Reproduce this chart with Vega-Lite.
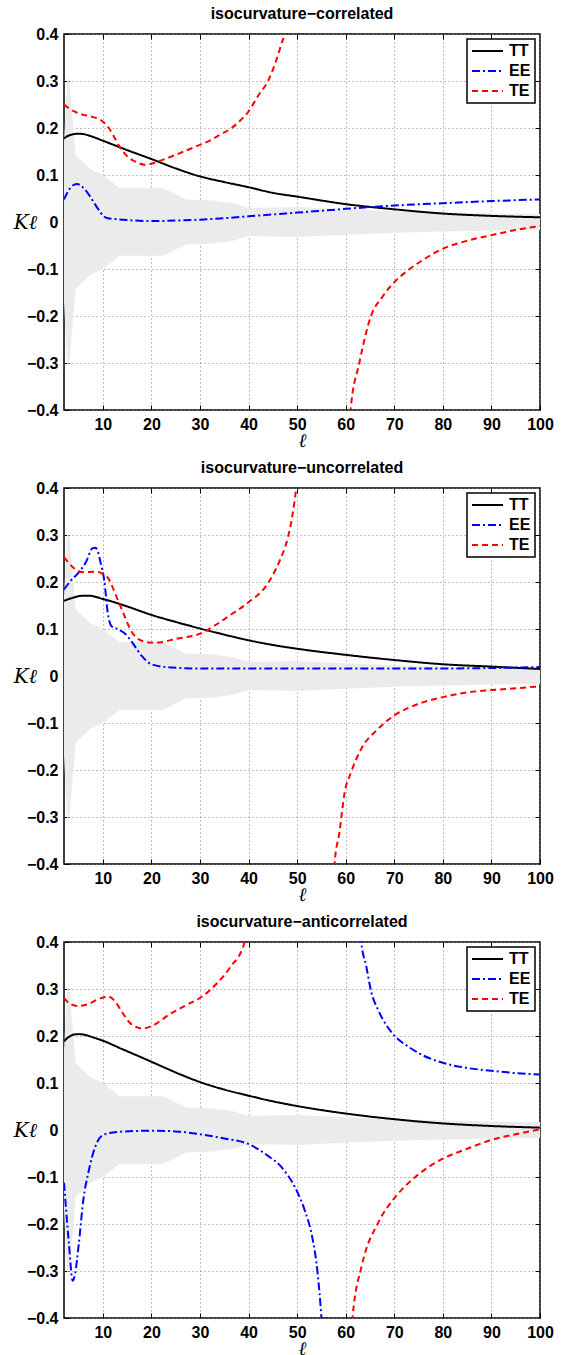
{
"$schema": "https://vega.github.io/schema/vega-lite/v6.json",
"background": "white",
"padding": {"left": 12, "top": 5, "right": 20, "bottom": 0},
"bounds": "flush",
"spacing": 78,
"config": {
  "font": "Liberation Sans",
  "view": {"stroke": "black", "strokeWidth": 1.5},
  "title": {"fontSize": 16, "fontWeight": "bold", "font": "Liberation Sans", "color": "black", "offset": 4},
  "axis": {"labelFont": "Liberation Sans", "labelFontSize": 16, "labelFontWeight": "bold", "labelColor": "black", "tickColor": "black", "tickSize": -5, "tickWidth": 1, "domain": false, "labelFlush": false, "labelOverlap": false, "gridDash": [1, 3], "gridColor": "#808080", "gridWidth": 1, "titleColor": "black", "zindex": 1},
  "legend": {"title": null, "orient": "top-right", "offset": 5, "strokeColor": "black", "strokeWidth": 1.5, "fillColor": "white", "padding": 4, "symbolType": "stroke", "symbolSize": 961, "symbolStrokeWidth": 2, "clipHeight": 16, "labelFontSize": 16, "labelFontWeight": "bold", "labelFont": "Liberation Sans", "labelColor": "black", "labelOffset": 5, "rowPadding": 4}
},
"resolve": {"legend": {"color": "independent", "strokeDash": "independent"}},
"datasets": {
  "band": [
    {"l": 2, "lo": -0.17, "hi": 0.17},
    {"l": 2.7, "lo": -0.31, "hi": 0.31},
    {"l": 3.2, "lo": -0.29, "hi": 0.29},
    {"l": 4.4, "lo": -0.142, "hi": 0.142},
    {"l": 7.4, "lo": -0.113, "hi": 0.113},
    {"l": 10, "lo": -0.1, "hi": 0.1},
    {"l": 13.5, "lo": -0.072, "hi": 0.072},
    {"l": 22.4, "lo": -0.072, "hi": 0.072},
    {"l": 27.2, "lo": -0.048, "hi": 0.048},
    {"l": 32.7, "lo": -0.046, "hi": 0.046},
    {"l": 36.8, "lo": -0.04, "hi": 0.04},
    {"l": 40, "lo": -0.03, "hi": 0.03},
    {"l": 46, "lo": -0.031, "hi": 0.031},
    {"l": 50, "lo": -0.032, "hi": 0.032},
    {"l": 55, "lo": -0.029, "hi": 0.029},
    {"l": 60, "lo": -0.027, "hi": 0.027},
    {"l": 70, "lo": -0.023, "hi": 0.023},
    {"l": 80, "lo": -0.02, "hi": 0.02},
    {"l": 90, "lo": -0.018, "hi": 0.018},
    {"l": 100, "lo": -0.017, "hi": 0.017}
  ],
  "curves": [
    {"p": 1, "s": "TT", "g": "TT", "l": 2, "k": 0.178},
    {"p": 1, "s": "TT", "g": "TT", "l": 3, "k": 0.184},
    {"p": 1, "s": "TT", "g": "TT", "l": 4, "k": 0.187},
    {"p": 1, "s": "TT", "g": "TT", "l": 5, "k": 0.188},
    {"p": 1, "s": "TT", "g": "TT", "l": 6, "k": 0.187},
    {"p": 1, "s": "TT", "g": "TT", "l": 8, "k": 0.181},
    {"p": 1, "s": "TT", "g": "TT", "l": 10, "k": 0.173},
    {"p": 1, "s": "TT", "g": "TT", "l": 12, "k": 0.165},
    {"p": 1, "s": "TT", "g": "TT", "l": 15, "k": 0.153},
    {"p": 1, "s": "TT", "g": "TT", "l": 20, "k": 0.134},
    {"p": 1, "s": "TT", "g": "TT", "l": 25, "k": 0.114},
    {"p": 1, "s": "TT", "g": "TT", "l": 30, "k": 0.097},
    {"p": 1, "s": "TT", "g": "TT", "l": 35, "k": 0.085},
    {"p": 1, "s": "TT", "g": "TT", "l": 40, "k": 0.074},
    {"p": 1, "s": "TT", "g": "TT", "l": 45, "k": 0.062},
    {"p": 1, "s": "TT", "g": "TT", "l": 50, "k": 0.054},
    {"p": 1, "s": "TT", "g": "TT", "l": 60, "k": 0.038},
    {"p": 1, "s": "TT", "g": "TT", "l": 70, "k": 0.027},
    {"p": 1, "s": "TT", "g": "TT", "l": 80, "k": 0.018},
    {"p": 1, "s": "TT", "g": "TT", "l": 90, "k": 0.013},
    {"p": 1, "s": "TT", "g": "TT", "l": 100, "k": 0.01},
    {"p": 1, "s": "EE", "g": "EE", "l": 2, "k": 0.048},
    {"p": 1, "s": "EE", "g": "EE", "l": 3, "k": 0.068},
    {"p": 1, "s": "EE", "g": "EE", "l": 4, "k": 0.079},
    {"p": 1, "s": "EE", "g": "EE", "l": 4.7, "k": 0.081},
    {"p": 1, "s": "EE", "g": "EE", "l": 5.5, "k": 0.077},
    {"p": 1, "s": "EE", "g": "EE", "l": 7, "k": 0.06},
    {"p": 1, "s": "EE", "g": "EE", "l": 8, "k": 0.044},
    {"p": 1, "s": "EE", "g": "EE", "l": 9, "k": 0.028},
    {"p": 1, "s": "EE", "g": "EE", "l": 10, "k": 0.014},
    {"p": 1, "s": "EE", "g": "EE", "l": 11, "k": 0.008},
    {"p": 1, "s": "EE", "g": "EE", "l": 14, "k": 0.005},
    {"p": 1, "s": "EE", "g": "EE", "l": 20, "k": 0.002},
    {"p": 1, "s": "EE", "g": "EE", "l": 25, "k": 0.003},
    {"p": 1, "s": "EE", "g": "EE", "l": 30, "k": 0.005},
    {"p": 1, "s": "EE", "g": "EE", "l": 35, "k": 0.008},
    {"p": 1, "s": "EE", "g": "EE", "l": 40, "k": 0.012},
    {"p": 1, "s": "EE", "g": "EE", "l": 45, "k": 0.016},
    {"p": 1, "s": "EE", "g": "EE", "l": 50, "k": 0.02},
    {"p": 1, "s": "EE", "g": "EE", "l": 60, "k": 0.028},
    {"p": 1, "s": "EE", "g": "EE", "l": 70, "k": 0.035},
    {"p": 1, "s": "EE", "g": "EE", "l": 80, "k": 0.04},
    {"p": 1, "s": "EE", "g": "EE", "l": 90, "k": 0.0445},
    {"p": 1, "s": "EE", "g": "EE", "l": 100, "k": 0.048},
    {"p": 1, "s": "TE", "g": "TEa", "l": 2, "k": 0.25},
    {"p": 1, "s": "TE", "g": "TEa", "l": 3, "k": 0.242},
    {"p": 1, "s": "TE", "g": "TEa", "l": 4.6, "k": 0.233},
    {"p": 1, "s": "TE", "g": "TEa", "l": 6, "k": 0.228},
    {"p": 1, "s": "TE", "g": "TEa", "l": 7.3, "k": 0.225},
    {"p": 1, "s": "TE", "g": "TEa", "l": 9.7, "k": 0.216},
    {"p": 1, "s": "TE", "g": "TEa", "l": 11.3, "k": 0.199},
    {"p": 1, "s": "TE", "g": "TEa", "l": 12.7, "k": 0.174},
    {"p": 1, "s": "TE", "g": "TEa", "l": 13.7, "k": 0.156},
    {"p": 1, "s": "TE", "g": "TEa", "l": 15, "k": 0.14},
    {"p": 1, "s": "TE", "g": "TEa", "l": 16.8, "k": 0.128},
    {"p": 1, "s": "TE", "g": "TEa", "l": 18.6, "k": 0.122},
    {"p": 1, "s": "TE", "g": "TEa", "l": 20, "k": 0.124},
    {"p": 1, "s": "TE", "g": "TEa", "l": 22, "k": 0.131},
    {"p": 1, "s": "TE", "g": "TEa", "l": 25.5, "k": 0.145},
    {"p": 1, "s": "TE", "g": "TEa", "l": 29.7, "k": 0.163},
    {"p": 1, "s": "TE", "g": "TEa", "l": 31.8, "k": 0.172},
    {"p": 1, "s": "TE", "g": "TEa", "l": 34, "k": 0.185},
    {"p": 1, "s": "TE", "g": "TEa", "l": 36.5, "k": 0.2},
    {"p": 1, "s": "TE", "g": "TEa", "l": 38.5, "k": 0.218},
    {"p": 1, "s": "TE", "g": "TEa", "l": 39.9, "k": 0.234},
    {"p": 1, "s": "TE", "g": "TEa", "l": 42, "k": 0.269},
    {"p": 1, "s": "TE", "g": "TEa", "l": 44, "k": 0.3},
    {"p": 1, "s": "TE", "g": "TEa", "l": 45.8, "k": 0.347},
    {"p": 1, "s": "TE", "g": "TEa", "l": 47, "k": 0.386},
    {"p": 1, "s": "TE", "g": "TEa", "l": 47.5, "k": 0.4},
    {"p": 1, "s": "TE", "g": "TEa", "l": 48, "k": 0.42},
    {"p": 1, "s": "TE", "g": "TEb", "l": 60.6, "k": -0.45},
    {"p": 1, "s": "TE", "g": "TEb", "l": 61, "k": -0.4},
    {"p": 1, "s": "TE", "g": "TEb", "l": 62.8, "k": -0.3},
    {"p": 1, "s": "TE", "g": "TEb", "l": 65.2, "k": -0.2},
    {"p": 1, "s": "TE", "g": "TEb", "l": 67.5, "k": -0.16},
    {"p": 1, "s": "TE", "g": "TEb", "l": 70, "k": -0.128},
    {"p": 1, "s": "TE", "g": "TEb", "l": 72.8, "k": -0.103},
    {"p": 1, "s": "TE", "g": "TEb", "l": 76, "k": -0.08},
    {"p": 1, "s": "TE", "g": "TEb", "l": 80, "k": -0.057},
    {"p": 1, "s": "TE", "g": "TEb", "l": 85, "k": -0.04},
    {"p": 1, "s": "TE", "g": "TEb", "l": 90, "k": -0.028},
    {"p": 1, "s": "TE", "g": "TEb", "l": 95, "k": -0.017},
    {"p": 1, "s": "TE", "g": "TEb", "l": 100, "k": -0.0085},

    {"p": 2, "s": "TT", "g": "TT", "l": 2, "k": 0.16},
    {"p": 2, "s": "TT", "g": "TT", "l": 4, "k": 0.167},
    {"p": 2, "s": "TT", "g": "TT", "l": 6, "k": 0.171},
    {"p": 2, "s": "TT", "g": "TT", "l": 7, "k": 0.171},
    {"p": 2, "s": "TT", "g": "TT", "l": 10, "k": 0.164},
    {"p": 2, "s": "TT", "g": "TT", "l": 15, "k": 0.148},
    {"p": 2, "s": "TT", "g": "TT", "l": 20, "k": 0.13},
    {"p": 2, "s": "TT", "g": "TT", "l": 25, "k": 0.115},
    {"p": 2, "s": "TT", "g": "TT", "l": 30, "k": 0.101},
    {"p": 2, "s": "TT", "g": "TT", "l": 35, "k": 0.088},
    {"p": 2, "s": "TT", "g": "TT", "l": 40, "k": 0.076},
    {"p": 2, "s": "TT", "g": "TT", "l": 45, "k": 0.066},
    {"p": 2, "s": "TT", "g": "TT", "l": 50, "k": 0.058},
    {"p": 2, "s": "TT", "g": "TT", "l": 60, "k": 0.045},
    {"p": 2, "s": "TT", "g": "TT", "l": 70, "k": 0.034},
    {"p": 2, "s": "TT", "g": "TT", "l": 80, "k": 0.025},
    {"p": 2, "s": "TT", "g": "TT", "l": 90, "k": 0.02},
    {"p": 2, "s": "TT", "g": "TT", "l": 100, "k": 0.015},
    {"p": 2, "s": "EE", "g": "EE", "l": 2, "k": 0.184},
    {"p": 2, "s": "EE", "g": "EE", "l": 3.4, "k": 0.203},
    {"p": 2, "s": "EE", "g": "EE", "l": 5.1, "k": 0.221},
    {"p": 2, "s": "EE", "g": "EE", "l": 6.5, "k": 0.242},
    {"p": 2, "s": "EE", "g": "EE", "l": 7.9, "k": 0.272},
    {"p": 2, "s": "EE", "g": "EE", "l": 8.5, "k": 0.273},
    {"p": 2, "s": "EE", "g": "EE", "l": 8.9, "k": 0.267},
    {"p": 2, "s": "EE", "g": "EE", "l": 9.6, "k": 0.238},
    {"p": 2, "s": "EE", "g": "EE", "l": 10.3, "k": 0.203},
    {"p": 2, "s": "EE", "g": "EE", "l": 11, "k": 0.135},
    {"p": 2, "s": "EE", "g": "EE", "l": 11.7, "k": 0.107},
    {"p": 2, "s": "EE", "g": "EE", "l": 13, "k": 0.1},
    {"p": 2, "s": "EE", "g": "EE", "l": 14.7, "k": 0.089},
    {"p": 2, "s": "EE", "g": "EE", "l": 16, "k": 0.072},
    {"p": 2, "s": "EE", "g": "EE", "l": 18, "k": 0.043},
    {"p": 2, "s": "EE", "g": "EE", "l": 20, "k": 0.025},
    {"p": 2, "s": "EE", "g": "EE", "l": 24, "k": 0.018},
    {"p": 2, "s": "EE", "g": "EE", "l": 30, "k": 0.016},
    {"p": 2, "s": "EE", "g": "EE", "l": 50, "k": 0.016},
    {"p": 2, "s": "EE", "g": "EE", "l": 80, "k": 0.016},
    {"p": 2, "s": "EE", "g": "EE", "l": 90, "k": 0.017},
    {"p": 2, "s": "EE", "g": "EE", "l": 100, "k": 0.019},
    {"p": 2, "s": "TE", "g": "TEa", "l": 2, "k": 0.253},
    {"p": 2, "s": "TE", "g": "TEa", "l": 3, "k": 0.24},
    {"p": 2, "s": "TE", "g": "TEa", "l": 4.2, "k": 0.228},
    {"p": 2, "s": "TE", "g": "TEa", "l": 5.9, "k": 0.221},
    {"p": 2, "s": "TE", "g": "TEa", "l": 8.6, "k": 0.222},
    {"p": 2, "s": "TE", "g": "TEa", "l": 10, "k": 0.217},
    {"p": 2, "s": "TE", "g": "TEa", "l": 11.3, "k": 0.205},
    {"p": 2, "s": "TE", "g": "TEa", "l": 12, "k": 0.189},
    {"p": 2, "s": "TE", "g": "TEa", "l": 13, "k": 0.164},
    {"p": 2, "s": "TE", "g": "TEa", "l": 14, "k": 0.139},
    {"p": 2, "s": "TE", "g": "TEa", "l": 16, "k": 0.093},
    {"p": 2, "s": "TE", "g": "TEa", "l": 18, "k": 0.075},
    {"p": 2, "s": "TE", "g": "TEa", "l": 20, "k": 0.071},
    {"p": 2, "s": "TE", "g": "TEa", "l": 22, "k": 0.072},
    {"p": 2, "s": "TE", "g": "TEa", "l": 25, "k": 0.079},
    {"p": 2, "s": "TE", "g": "TEa", "l": 30, "k": 0.09},
    {"p": 2, "s": "TE", "g": "TEa", "l": 33, "k": 0.107},
    {"p": 2, "s": "TE", "g": "TEa", "l": 36, "k": 0.128},
    {"p": 2, "s": "TE", "g": "TEa", "l": 40, "k": 0.157},
    {"p": 2, "s": "TE", "g": "TEa", "l": 43.5, "k": 0.19},
    {"p": 2, "s": "TE", "g": "TEa", "l": 45, "k": 0.215},
    {"p": 2, "s": "TE", "g": "TEa", "l": 46.4, "k": 0.245},
    {"p": 2, "s": "TE", "g": "TEa", "l": 48.1, "k": 0.295},
    {"p": 2, "s": "TE", "g": "TEa", "l": 49, "k": 0.34},
    {"p": 2, "s": "TE", "g": "TEa", "l": 49.8, "k": 0.4},
    {"p": 2, "s": "TE", "g": "TEa", "l": 50.2, "k": 0.44},
    {"p": 2, "s": "TE", "g": "TEb", "l": 57.5, "k": -0.45},
    {"p": 2, "s": "TE", "g": "TEb", "l": 57.7, "k": -0.4},
    {"p": 2, "s": "TE", "g": "TEb", "l": 58.7, "k": -0.333},
    {"p": 2, "s": "TE", "g": "TEb", "l": 59.8, "k": -0.247},
    {"p": 2, "s": "TE", "g": "TEb", "l": 61.1, "k": -0.205},
    {"p": 2, "s": "TE", "g": "TEb", "l": 63.2, "k": -0.155},
    {"p": 2, "s": "TE", "g": "TEb", "l": 66.6, "k": -0.113},
    {"p": 2, "s": "TE", "g": "TEb", "l": 70, "k": -0.084},
    {"p": 2, "s": "TE", "g": "TEb", "l": 74.8, "k": -0.06},
    {"p": 2, "s": "TE", "g": "TEb", "l": 80, "k": -0.045},
    {"p": 2, "s": "TE", "g": "TEb", "l": 85, "k": -0.035},
    {"p": 2, "s": "TE", "g": "TEb", "l": 90, "k": -0.03},
    {"p": 2, "s": "TE", "g": "TEb", "l": 95, "k": -0.026},
    {"p": 2, "s": "TE", "g": "TEb", "l": 100, "k": -0.022},

    {"p": 3, "s": "TT", "g": "TT", "l": 2, "k": 0.189},
    {"p": 3, "s": "TT", "g": "TT", "l": 3, "k": 0.198},
    {"p": 3, "s": "TT", "g": "TT", "l": 4, "k": 0.203},
    {"p": 3, "s": "TT", "g": "TT", "l": 5, "k": 0.204},
    {"p": 3, "s": "TT", "g": "TT", "l": 6, "k": 0.203},
    {"p": 3, "s": "TT", "g": "TT", "l": 8, "k": 0.197},
    {"p": 3, "s": "TT", "g": "TT", "l": 10, "k": 0.19},
    {"p": 3, "s": "TT", "g": "TT", "l": 14, "k": 0.172},
    {"p": 3, "s": "TT", "g": "TT", "l": 18.5, "k": 0.152},
    {"p": 3, "s": "TT", "g": "TT", "l": 22, "k": 0.136},
    {"p": 3, "s": "TT", "g": "TT", "l": 26, "k": 0.118},
    {"p": 3, "s": "TT", "g": "TT", "l": 30, "k": 0.102},
    {"p": 3, "s": "TT", "g": "TT", "l": 35, "k": 0.086},
    {"p": 3, "s": "TT", "g": "TT", "l": 40, "k": 0.073},
    {"p": 3, "s": "TT", "g": "TT", "l": 45, "k": 0.061},
    {"p": 3, "s": "TT", "g": "TT", "l": 50, "k": 0.051},
    {"p": 3, "s": "TT", "g": "TT", "l": 60, "k": 0.035},
    {"p": 3, "s": "TT", "g": "TT", "l": 70, "k": 0.023},
    {"p": 3, "s": "TT", "g": "TT", "l": 80, "k": 0.014},
    {"p": 3, "s": "TT", "g": "TT", "l": 90, "k": 0.0085},
    {"p": 3, "s": "TT", "g": "TT", "l": 100, "k": 0.005},
    {"p": 3, "s": "EE", "g": "EEa", "l": 2, "k": -0.112},
    {"p": 3, "s": "EE", "g": "EEa", "l": 3, "k": -0.24},
    {"p": 3, "s": "EE", "g": "EEa", "l": 3.8, "k": -0.321},
    {"p": 3, "s": "EE", "g": "EEa", "l": 4.3, "k": -0.305},
    {"p": 3, "s": "EE", "g": "EEa", "l": 5, "k": -0.247},
    {"p": 3, "s": "EE", "g": "EEa", "l": 6, "k": -0.147},
    {"p": 3, "s": "EE", "g": "EEa", "l": 7, "k": -0.091},
    {"p": 3, "s": "EE", "g": "EEa", "l": 8.5, "k": -0.034},
    {"p": 3, "s": "EE", "g": "EEa", "l": 10, "k": -0.011},
    {"p": 3, "s": "EE", "g": "EEa", "l": 13, "k": -0.004},
    {"p": 3, "s": "EE", "g": "EEa", "l": 20, "k": -0.0015},
    {"p": 3, "s": "EE", "g": "EEa", "l": 25, "k": -0.003},
    {"p": 3, "s": "EE", "g": "EEa", "l": 30, "k": -0.009},
    {"p": 3, "s": "EE", "g": "EEa", "l": 35, "k": -0.018},
    {"p": 3, "s": "EE", "g": "EEa", "l": 40, "k": -0.03},
    {"p": 3, "s": "EE", "g": "EEa", "l": 44, "k": -0.055},
    {"p": 3, "s": "EE", "g": "EEa", "l": 46.6, "k": -0.077},
    {"p": 3, "s": "EE", "g": "EEa", "l": 49.4, "k": -0.119},
    {"p": 3, "s": "EE", "g": "EEa", "l": 51.5, "k": -0.169},
    {"p": 3, "s": "EE", "g": "EEa", "l": 53.2, "k": -0.233},
    {"p": 3, "s": "EE", "g": "EEa", "l": 54.2, "k": -0.303},
    {"p": 3, "s": "EE", "g": "EEa", "l": 55, "k": -0.4},
    {"p": 3, "s": "EE", "g": "EEa", "l": 55.3, "k": -0.45},
    {"p": 3, "s": "EE", "g": "EEb", "l": 63, "k": 0.45},
    {"p": 3, "s": "EE", "g": "EEb", "l": 63.2, "k": 0.4},
    {"p": 3, "s": "EE", "g": "EEb", "l": 64.2, "k": 0.35},
    {"p": 3, "s": "EE", "g": "EEb", "l": 65.3, "k": 0.292},
    {"p": 3, "s": "EE", "g": "EEb", "l": 66.6, "k": 0.257},
    {"p": 3, "s": "EE", "g": "EEb", "l": 68.7, "k": 0.218},
    {"p": 3, "s": "EE", "g": "EEb", "l": 70.4, "k": 0.197},
    {"p": 3, "s": "EE", "g": "EEb", "l": 72.8, "k": 0.178},
    {"p": 3, "s": "EE", "g": "EEb", "l": 75.5, "k": 0.161},
    {"p": 3, "s": "EE", "g": "EEb", "l": 80.3, "k": 0.142},
    {"p": 3, "s": "EE", "g": "EEb", "l": 85, "k": 0.132},
    {"p": 3, "s": "EE", "g": "EEb", "l": 90, "k": 0.126},
    {"p": 3, "s": "EE", "g": "EEb", "l": 95, "k": 0.121},
    {"p": 3, "s": "EE", "g": "EEb", "l": 100, "k": 0.118},
    {"p": 3, "s": "TE", "g": "TEa", "l": 2, "k": 0.281},
    {"p": 3, "s": "TE", "g": "TEa", "l": 3, "k": 0.27},
    {"p": 3, "s": "TE", "g": "TEa", "l": 4.8, "k": 0.264},
    {"p": 3, "s": "TE", "g": "TEa", "l": 7, "k": 0.268},
    {"p": 3, "s": "TE", "g": "TEa", "l": 9, "k": 0.278},
    {"p": 3, "s": "TE", "g": "TEa", "l": 11.1, "k": 0.284},
    {"p": 3, "s": "TE", "g": "TEa", "l": 12.5, "k": 0.274},
    {"p": 3, "s": "TE", "g": "TEa", "l": 14, "k": 0.25},
    {"p": 3, "s": "TE", "g": "TEa", "l": 16, "k": 0.224},
    {"p": 3, "s": "TE", "g": "TEa", "l": 18.2, "k": 0.216},
    {"p": 3, "s": "TE", "g": "TEa", "l": 20, "k": 0.221},
    {"p": 3, "s": "TE", "g": "TEa", "l": 23.7, "k": 0.246},
    {"p": 3, "s": "TE", "g": "TEa", "l": 27.4, "k": 0.267},
    {"p": 3, "s": "TE", "g": "TEa", "l": 30.3, "k": 0.283},
    {"p": 3, "s": "TE", "g": "TEa", "l": 33.3, "k": 0.31},
    {"p": 3, "s": "TE", "g": "TEa", "l": 36.2, "k": 0.346},
    {"p": 3, "s": "TE", "g": "TEa", "l": 39.2, "k": 0.4},
    {"p": 3, "s": "TE", "g": "TEa", "l": 39.6, "k": 0.42},
    {"p": 3, "s": "TE", "g": "TEb", "l": 61.2, "k": -0.45},
    {"p": 3, "s": "TE", "g": "TEb", "l": 61.4, "k": -0.4},
    {"p": 3, "s": "TE", "g": "TEb", "l": 63.3, "k": -0.289},
    {"p": 3, "s": "TE", "g": "TEb", "l": 66.7, "k": -0.197},
    {"p": 3, "s": "TE", "g": "TEb", "l": 70.1, "k": -0.144},
    {"p": 3, "s": "TE", "g": "TEb", "l": 74.2, "k": -0.101},
    {"p": 3, "s": "TE", "g": "TEb", "l": 80, "k": -0.061},
    {"p": 3, "s": "TE", "g": "TEb", "l": 85, "k": -0.04},
    {"p": 3, "s": "TE", "g": "TEb", "l": 90, "k": -0.021},
    {"p": 3, "s": "TE", "g": "TEb", "l": 95, "k": -0.009},
    {"p": 3, "s": "TE", "g": "TEb", "l": 100, "k": 0.0015}
  ]
},
"vconcat": [
  {
    "title": "isocurvature−correlated",
    "width": 476, "height": 376,
    "resolve": {"axis": {"x": "independent", "y": "independent"}},
    "layer": [
      {"data": {"name": "band"},
       "mark": {"type": "area", "color": "#ebebeb", "clip": true, "interpolate": "linear"},
       "encoding": {
         "x": {"field": "l", "type": "quantitative", "scale": {"domain": [2, 100], "nice": false, "zero": false},
               "axis": {"orient": "bottom", "values": [10,20,30,40,50,60,70,80,90,100], "grid": true, "labelPadding": 11, "title": "ℓ", "titleFont": "DejaVu Serif", "titleFontStyle": "italic", "titleFontWeight": "normal", "titleFontSize": 19, "titleBaseline": "alphabetic", "titlePadding": 14.5}},
         "y": {"field": "lo", "type": "quantitative", "scale": {"domain": [-0.4, 0.4], "nice": false, "zero": false},
               "axis": {"orient": "left", "values": [-0.4,-0.3,-0.2,-0.1,0,0.1,0.2,0.3,0.4], "format": "~g", "grid": true, "labelPadding": 11, "title": "Kℓ", "titleFont": "DejaVu Serif", "titleFontStyle": "italic", "titleFontWeight": "normal", "titleFontSize": 20, "titleAngle": 0, "titleAlign": "center", "titleBaseline": "middle", "titleX": -39, "titleY": 188}},
         "y2": {"field": "hi"}
       }},
      {"data": {"name": "curves"},
       "transform": [{"filter": "datum.p == 1"}],
       "mark": {"type": "line", "clip": true, "strokeWidth": 2, "interpolate": "monotone"},
       "encoding": {
         "x": {"field": "l", "type": "quantitative", "axis": {"orient": "top", "values": [10,20,30,40,50,60,70,80,90], "grid": false, "labels": false, "title": null}},
         "y": {"field": "k", "type": "quantitative", "axis": {"orient": "right", "values": [-0.3,-0.2,-0.1,0,0.1,0.2,0.3], "grid": false, "labels": false, "title": null}},
         "color": {"field": "s", "type": "nominal", "scale": {"domain": ["TT","EE","TE"], "range": ["#000000","#0000ff","#ff0000"]}, "legend": {"title": null}},
         "strokeDash": {"field": "s", "type": "nominal", "scale": {"domain": ["TT","EE","TE"], "range": [[1,0],[8,3,2,3],[6,4]]}, "legend": {"title": null}},
         "detail": {"field": "g", "type": "nominal"}
       }}
    ]
  },
  {
    "title": "isocurvature−uncorrelated",
    "width": 476, "height": 376,
    "resolve": {"axis": {"x": "independent", "y": "independent"}},
    "layer": [
      {"data": {"name": "band"},
       "mark": {"type": "area", "color": "#ebebeb", "clip": true, "interpolate": "linear"},
       "encoding": {
         "x": {"field": "l", "type": "quantitative", "scale": {"domain": [2, 100], "nice": false, "zero": false},
               "axis": {"orient": "bottom", "values": [10,20,30,40,50,60,70,80,90,100], "grid": true, "labelPadding": 11, "title": "ℓ", "titleFont": "DejaVu Serif", "titleFontStyle": "italic", "titleFontWeight": "normal", "titleFontSize": 19, "titleBaseline": "alphabetic", "titlePadding": 14.5}},
         "y": {"field": "lo", "type": "quantitative", "scale": {"domain": [-0.4, 0.4], "nice": false, "zero": false},
               "axis": {"orient": "left", "values": [-0.4,-0.3,-0.2,-0.1,0,0.1,0.2,0.3,0.4], "format": "~g", "grid": true, "labelPadding": 11, "title": "Kℓ", "titleFont": "DejaVu Serif", "titleFontStyle": "italic", "titleFontWeight": "normal", "titleFontSize": 20, "titleAngle": 0, "titleAlign": "center", "titleBaseline": "middle", "titleX": -39, "titleY": 188}},
         "y2": {"field": "hi"}
       }},
      {"data": {"name": "curves"},
       "transform": [{"filter": "datum.p == 2"}],
       "mark": {"type": "line", "clip": true, "strokeWidth": 2, "interpolate": "monotone"},
       "encoding": {
         "x": {"field": "l", "type": "quantitative", "axis": {"orient": "top", "values": [10,20,30,40,50,60,70,80,90], "grid": false, "labels": false, "title": null}},
         "y": {"field": "k", "type": "quantitative", "axis": {"orient": "right", "values": [-0.3,-0.2,-0.1,0,0.1,0.2,0.3], "grid": false, "labels": false, "title": null}},
         "color": {"field": "s", "type": "nominal", "scale": {"domain": ["TT","EE","TE"], "range": ["#000000","#0000ff","#ff0000"]}, "legend": {"title": null}},
         "strokeDash": {"field": "s", "type": "nominal", "scale": {"domain": ["TT","EE","TE"], "range": [[1,0],[8,3,2,3],[6,4]]}, "legend": {"title": null}},
         "detail": {"field": "g", "type": "nominal"}
       }}
    ]
  },
  {
    "title": "isocurvature−anticorrelated",
    "width": 476, "height": 376,
    "resolve": {"axis": {"x": "independent", "y": "independent"}},
    "layer": [
      {"data": {"name": "band"},
       "mark": {"type": "area", "color": "#ebebeb", "clip": true, "interpolate": "linear"},
       "encoding": {
         "x": {"field": "l", "type": "quantitative", "scale": {"domain": [2, 100], "nice": false, "zero": false},
               "axis": {"orient": "bottom", "values": [10,20,30,40,50,60,70,80,90,100], "grid": true, "labelPadding": 11, "title": "ℓ", "titleFont": "DejaVu Serif", "titleFontStyle": "italic", "titleFontWeight": "normal", "titleFontSize": 19, "titleBaseline": "alphabetic", "titlePadding": 14.5}},
         "y": {"field": "lo", "type": "quantitative", "scale": {"domain": [-0.4, 0.4], "nice": false, "zero": false},
               "axis": {"orient": "left", "values": [-0.4,-0.3,-0.2,-0.1,0,0.1,0.2,0.3,0.4], "format": "~g", "grid": true, "labelPadding": 11, "title": "Kℓ", "titleFont": "DejaVu Serif", "titleFontStyle": "italic", "titleFontWeight": "normal", "titleFontSize": 20, "titleAngle": 0, "titleAlign": "center", "titleBaseline": "middle", "titleX": -39, "titleY": 188}},
         "y2": {"field": "hi"}
       }},
      {"data": {"name": "curves"},
       "transform": [{"filter": "datum.p == 3"}],
       "mark": {"type": "line", "clip": true, "strokeWidth": 2, "interpolate": "monotone"},
       "encoding": {
         "x": {"field": "l", "type": "quantitative", "axis": {"orient": "top", "values": [10,20,30,40,50,60,70,80,90], "grid": false, "labels": false, "title": null}},
         "y": {"field": "k", "type": "quantitative", "axis": {"orient": "right", "values": [-0.3,-0.2,-0.1,0,0.1,0.2,0.3], "grid": false, "labels": false, "title": null}},
         "color": {"field": "s", "type": "nominal", "scale": {"domain": ["TT","EE","TE"], "range": ["#000000","#0000ff","#ff0000"]}, "legend": {"title": null}},
         "strokeDash": {"field": "s", "type": "nominal", "scale": {"domain": ["TT","EE","TE"], "range": [[1,0],[8,3,2,3],[6,4]]}, "legend": {"title": null}},
         "detail": {"field": "g", "type": "nominal"}
       }}
    ]
  }
]
}
